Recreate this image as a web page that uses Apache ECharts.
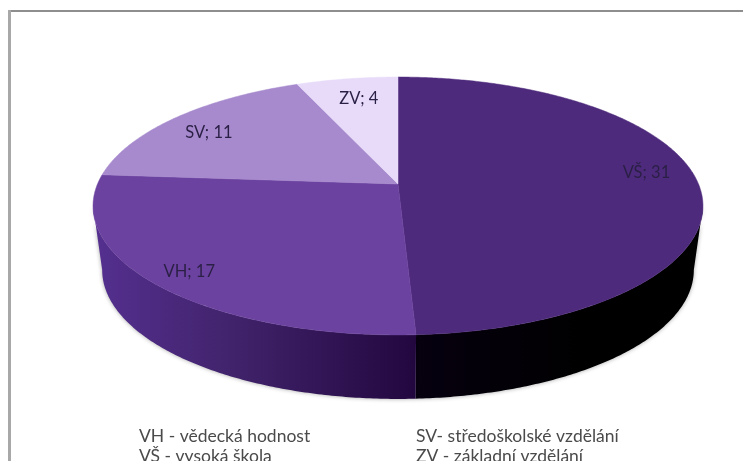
<!DOCTYPE html>
<html>
<head>
<meta charset="utf-8">
<style>html,body{margin:0;padding:0;background:#fff;overflow:hidden}#c{width:743px;height:461px}</style>
<script src="https://cdn.jsdelivr.net/npm/echarts@6/dist/echarts.min.js"></script>
</head>
<body>
<div id="c"></div>
<script>
const categories = ['VŠ', 'VH', 'SV', 'ZV'];
const values = [31, 17, 11, 4];
const topColors = ['#4e2a7c', '#6c42a0', '#a78acd', '#e7dbf9'];
const legendLeft = ['VH - vědecká hodnost', 'VŠ - vysoká škola'];
const legendRight = ['SV- středoškolské vzdělání', 'ZV - základní vzdělání'];

/* Look of the tilted disc: a projective view of a circle */
const APEX = [398, 184], A = 300.5, B = 125.2, K = 0.1705, DEPTH = 64, BASE_X = 0.97;
const LABEL_R = [0.83, 0.87, 0.84, 0.74], LABEL_LIFT = [9, -3, -5, 5];
const total = values.reduce((s, v) => s + v, 0);
const cum = values.reduce((acc, v) => { acc.push(acc[acc.length - 1] + v); return acc; }, [0]);
const TANGENT = Math.acos(-K);

function project(theta, r, base) {
  const s = Math.sin(theta), c = Math.cos(theta), w = 1 + K * r * c;
  const x = A * r * s / w, y = -B * r * c / w;
  return base ? [APEX[0] + x * BASE_X, APEX[1] + y + DEPTH] : [APEX[0] + x, APEX[1] + y];
}
function arc(t0, t1, base) {
  const n = Math.max(2, Math.ceil(Math.abs(t1 - t0) / 0.01)), pts = [];
  for (let i = 0; i <= n; i++) pts.push(project(t0 + (t1 - t0) * i / n, 1, base));
  return pts;
}
const wallFill = [
  { type: 'linear', x: 0, y: 0, x2: 1, y2: 0, colorStops: [
    { offset: 0, color: '#06000f' }, { offset: 0.6, color: '#000000' }, { offset: 1, color: '#000000' }] },
  { type: 'linear', x: 0, y: 0, x2: 1, y2: 0, colorStops: [
    { offset: 0, color: '#553090' }, { offset: 0.45, color: '#40226a' }, { offset: 1, color: '#22073f' }] }
];

function renderItem(params, api) {
  const i = params.dataIndex;
  const t0 = cum[i] / total * 2 * Math.PI, t1 = t0 + api.value(1) / total * 2 * Math.PI;
  const children = [];
  const w0 = Math.max(t0, TANGENT), w1 = Math.min(t1, 2 * Math.PI - TANGENT);
  if (w1 > w0) {
    children.push({
      type: 'polygon',
      shape: { points: arc(w0, w1, false).concat(arc(w1, w0, true)) },
      style: { fill: wallFill[i] || '#000', shadowBlur: 4, shadowColor: 'rgba(0,0,0,0.35)' }
    });
  }
  children.push({
    type: 'polygon',
    shape: { points: [APEX].concat(arc(t0, t1, false)) },
    style: { fill: topColors[i], stroke: topColors[i], lineWidth: 0.5 }
  });
  const mid = (t0 + t1) / 2, p = project(mid, LABEL_R[i], false);
  children.push({
    type: 'text', z2: 10,
    style: {
      x: p[0], y: p[1] - LABEL_LIFT[i],
      text: categories[i] + '; ' + api.value(1),
      font: '16.5px Lato', fill: '#2a1f45', align: 'center', verticalAlign: 'middle'
    }
  });
  return { type: 'group', children };
}

const legendStyle = (x, y, text) => ({
  type: 'text', x, y,
  style: { text, font: '17.5px Lato', fill: '#4a4a4a', textVerticalAlign: 'middle' }
});

const chart = echarts.init(document.getElementById('c'), null, { renderer: 'canvas' });
chart.setOption({
  animation: false,
  backgroundColor: '#ffffff',
  graphic: [
    { type: 'rect', shape: { x: 9, y: 10, width: 734, height: 2 }, style: { fill: '#8e8e8e' } },
    { type: 'rect', shape: { x: 8, y: 10, width: 3, height: 451 }, style: { fill: '#a8a8a8' } },
    legendStyle(139, 436, legendLeft[0]),
    legendStyle(139, 456, legendLeft[1]),
    legendStyle(416, 436, legendRight[0]),
    legendStyle(416, 456, legendRight[1])
  ],
  series: [{
    type: 'custom',
    coordinateSystem: 'none',
    renderItem,
    data: categories.map((c, i) => [i, values[i]]),
    silent: true
  }]
});
</script>
</body>
</html>
